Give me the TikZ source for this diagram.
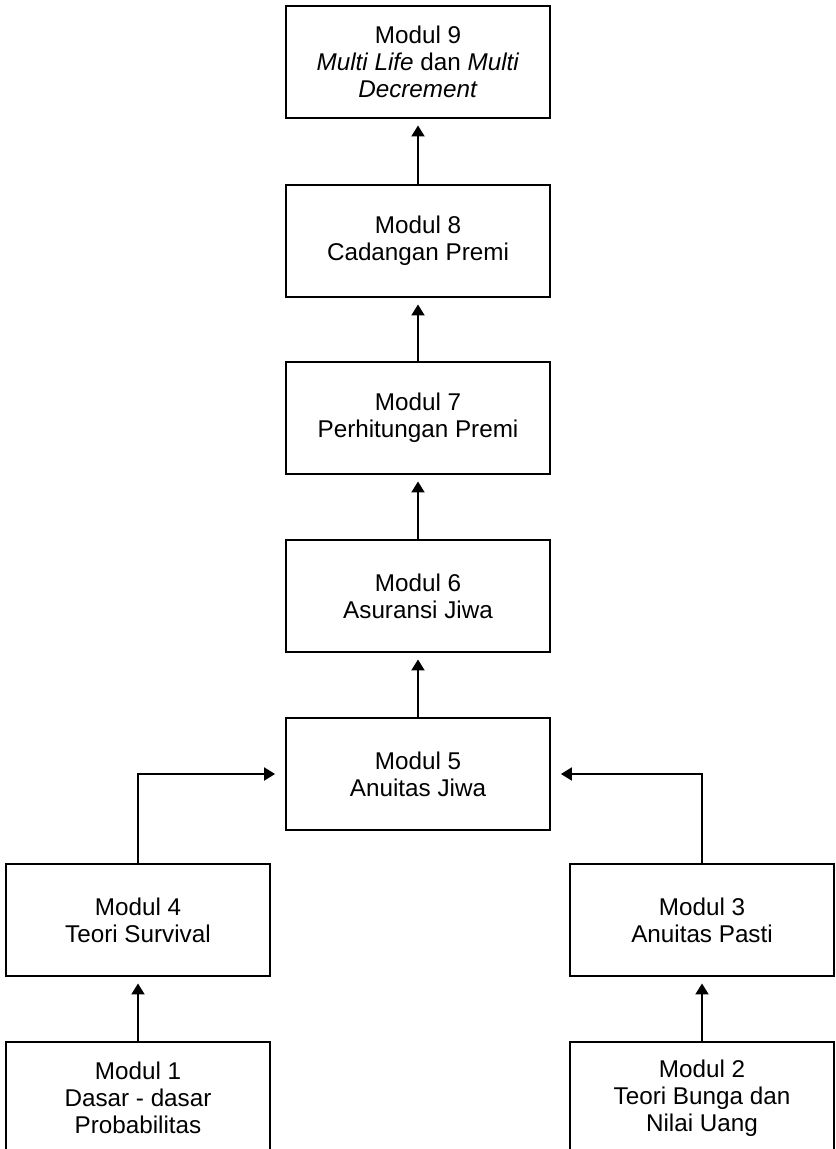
\documentclass[tikz,border=0pt]{standalone}
\usepackage{fontspec}
\setmainfont{Liberation Sans}
\usepackage{tikz}
\usetikzlibrary{arrows.meta, positioning}

\begin{document}
\begin{tikzpicture}[
    x=0.02cm, y=-0.02cm,
    modul/.style={rectangle, draw, line width=1.1pt, minimum width=5.28cm, minimum height=2.24cm, inner sep=0pt, align=center, font=\fontsize{13.8}{15.4}\selectfont},
    arr/.style={-{Triangle[length=2.2mm, width=2.6mm]}, line width=1.1pt, shorten >=0.13cm}
]
\useasboundingbox (0,0) rectangle (835,1149);
\clip (0,0) rectangle (835,1149);
\node[modul] (M9) at (418,62) {Modul 9\\\textit{Multi Life} dan \textit{Multi}\\\textit{Decrement}};
\node[modul] (M8) at (418,241) {Modul 8\\Cadangan Premi};
\node[modul] (M7) at (418,418) {Modul 7\\Perhitungan Premi};
\node[modul] (M6) at (418,596) {Modul 6\\Asuransi Jiwa};
\node[modul] (M5) at (418,774) {Modul 5\\Anuitas Jiwa};
\node[modul] (M4) at (138,920) {Modul 4\\Teori Survival};
\node[modul] (M3) at (702,920) {Modul 3\\Anuitas Pasti};
\node[modul] (M1) at (138,1098) {Modul 1\\Dasar - dasar\\Probabilitas};
\node[modul] (M2) at (702,1098) {Modul 2\\Teori Bunga dan\\Nilai Uang};

\draw[arr] (M8) -- (M9);
\draw[arr] (M7) -- (M8);
\draw[arr] (M6) -- (M7);
\draw[arr] (M5) -- (M6);
\draw[arr, shorten >=0.2cm] (M4.north) |- (M5.west);
\draw[arr, shorten >=0.2cm] (M3.north) |- (M5.east);
\draw[arr] (M1) -- (M4);
\draw[arr] (M2) -- (M3);
\end{tikzpicture}
\end{document}
